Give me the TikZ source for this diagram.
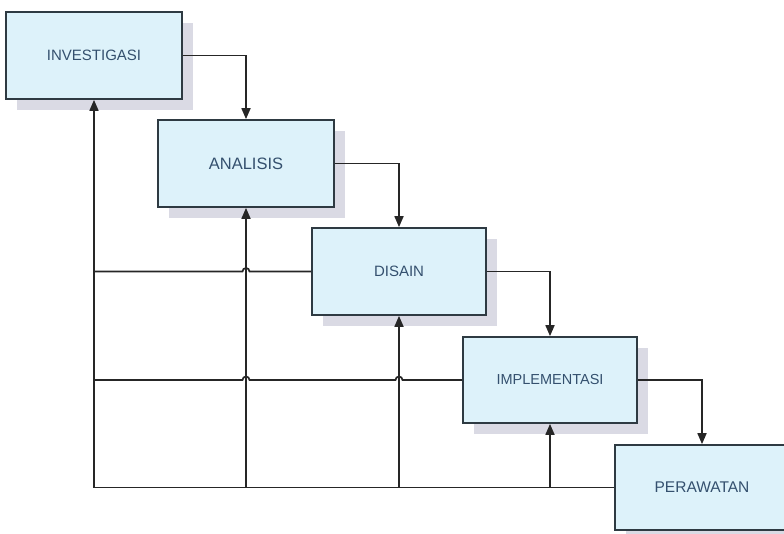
\documentclass[tikz,border=0pt]{standalone}
\usepackage{fontspec}
\setmainfont{Liberation Sans}
\usetikzlibrary{arrows.meta,shadows,calc}
\definecolor{boxfill}{HTML}{DDF2FA}
\definecolor{boxline}{HTML}{2E3A42}
\definecolor{shadowc}{HTML}{DADAE4}
\definecolor{txtc}{HTML}{34506E}
\definecolor{linec}{HTML}{262626}
\tikzset{
  stagebox/.style={draw=boxline, line width=1.7pt, fill=boxfill, rectangle, inner sep=0pt,
    text=txtc, drop shadow={shadow xshift=11pt, shadow yshift=-11pt, fill=shadowc, opacity=1}},
  conn/.style={draw=linec, line width=1.7pt},
  arr/.style={conn, -{Triangle[length=11pt,width=9pt]}},
}
\begin{document}
\begin{tikzpicture}[x=1pt,y=-1pt]
\useasboundingbox (0,0) rectangle (784,533);
\begin{scope}
\clip (0,0) rectangle (784,533);
\node[stagebox, minimum width=176pt, minimum height=87pt, font=\fontsize{15}{17}\selectfont] (inv) at (94,55.5) {INVESTIGASI};
\node[stagebox, minimum width=176pt, minimum height=87pt, font=\fontsize{16.5}{18}\selectfont] (ana) at (246,163.5) {ANALISIS};
\node[stagebox, minimum width=174pt, minimum height=87pt, font=\fontsize{15}{17}\selectfont] (dis) at (399,271.5) {DISAIN};
\node[stagebox, minimum width=174pt, minimum height=86pt, font=\fontsize{14.5}{16}\selectfont] (imp) at (550,380) {IMPLEMENTASI};
\node[stagebox, minimum width=174pt, minimum height=85pt, font=\fontsize{15.5}{17}\selectfont] (per) at (702,487.5) {PERAWATAN};

% forward flow
\draw[arr] (inv.east) -| (ana.north);
\draw[arr] (ana.east) -| (dis.north);
\draw[arr] (dis.east) -| (imp.north);
\draw[arr] (imp.east) -| (per.north);

% feedback
\coordinate (bl) at (inv.south |- per.west);
\draw[arr] (per.west) -- (bl) -- (inv.south);
\draw[arr] (ana.south |- bl) -- (ana.south);
\draw[arr] (dis.south |- bl) -- (dis.south);
\draw[arr] (imp.south |- bl) -- (imp.south);

\coordinate (h1) at (ana.south |- dis.west);
\coordinate (h2) at (dis.south |- imp.west);
\coordinate (h3) at (ana.south |- imp.west);
\draw[conn] (dis.west) -- ($(h1)+(3.5,0)$) arc[start angle=0, end angle=180, radius=3.5pt] -- (bl |- dis.west);
\draw[conn] (imp.west) -- ($(h2)+(3.5,0)$) arc[start angle=0, end angle=180, radius=3.5pt]
   -- ($(h3)+(3.5,0)$) arc[start angle=0, end angle=180, radius=3.5pt] -- (bl |- imp.west);
\end{scope}
\end{tikzpicture}
\end{document}
